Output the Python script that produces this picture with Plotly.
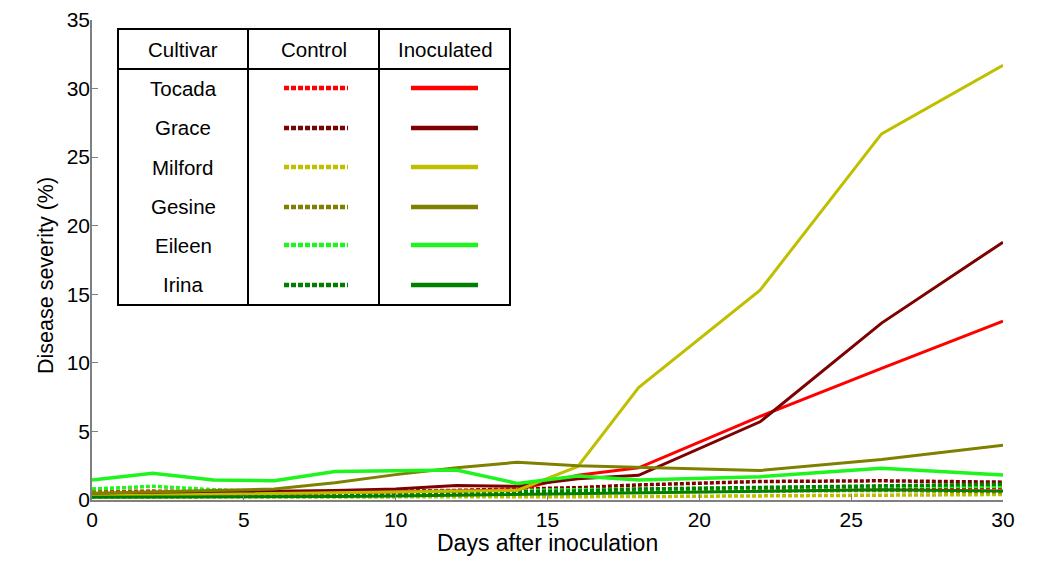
import plotly.graph_objects as go

days = [0, 2, 4, 6, 8, 10, 12, 14, 16, 18, 22, 26, 30]
cultivars = ["Tocada", "Grace", "Milford", "Gesine", "Eileen", "Irina"]
colors = ["#FF0000", "#7F0000", "#BFBF00", "#808000", "#1EF51E", "#007F00"]

# Inoculated (solid)
inoc_tocada = [0.3, 0.35, 0.4, 0.45, 0.5, 0.55, 0.65, 0.75, 1.8, 2.35, 6.1, 9.6, 13.05]
inoc_grace = [0.45, 0.5, 0.55, 0.6, 0.7, 0.8, 1.05, 1.0, 1.55, 1.8, 5.7, 12.9, 18.8]
inoc_milford = [0.3, 0.35, 0.4, 0.45, 0.5, 0.55, 0.65, 0.7, 2.45, 8.2, 15.3, 26.7, 31.7]
inoc_gesine = [0.5, 0.6, 0.65, 0.8, 1.25, 1.85, 2.35, 2.75, 2.5, 2.4, 2.15, 2.95, 4.0]
inoc_eileen = [1.46, 1.95, 1.46, 1.41, 2.07, 2.1, 2.19, 1.21, 1.75, 1.46, 1.7, 2.31, 1.82]
inoc_irina = [0.2, 0.2, 0.2, 0.2, 0.25, 0.3, 0.35, 0.4, 0.5, 0.55, 0.6, 0.75, 0.65]

# Control (dotted)
ctrl_tocada = [0.6, 0.65, 0.6, 0.55, 0.5, 0.55, 0.6, 0.65, 0.7, 0.75, 0.8, 0.85, 0.9]
ctrl_grace = [0.4, 0.45, 0.5, 0.5, 0.55, 0.6, 0.7, 0.8, 0.9, 1.1, 1.35, 1.4, 1.3]
ctrl_milford = [0.2, 0.2, 0.2, 0.2, 0.2, 0.2, 0.2, 0.2, 0.2, 0.25, 0.3, 0.35, 0.4]
ctrl_gesine = [0.55, 0.6, 0.6, 0.55, 0.5, 0.5, 0.5, 0.55, 0.6, 0.6, 0.65, 0.7, 0.6]
ctrl_eileen = [0.8, 1.0, 0.75, 0.6, 0.55, 0.6, 0.65, 0.7, 0.75, 0.85, 0.95, 1.0, 1.0]
ctrl_irina = [0.3, 0.3, 0.3, 0.35, 0.4, 0.45, 0.5, 0.55, 0.65, 0.8, 0.9, 1.05, 1.15]

inoc = [inoc_tocada, inoc_grace, inoc_milford, inoc_gesine, inoc_eileen, inoc_irina]
ctrl = [ctrl_tocada, ctrl_grace, ctrl_milford, ctrl_gesine, ctrl_eileen, ctrl_irina]

x_ticks = [0, 5, 10, 15, 20, 25, 30]
y_ticks = [0, 5, 10, 15, 20, 25, 30, 35]
headers = ["Cultivar", "Control", "Inoculated"]

FONT = "Liberation Sans, Arial, sans-serif"

fig = go.Figure()
for name, col, ys in zip(cultivars, colors, ctrl):
    fig.add_trace(go.Scatter(x=days, y=ys, mode="lines", name=name + " control",
                             line=dict(color=col, width=3.5, dash="4px,2px"),
                             showlegend=False, cliponaxis=False))
for name, col, ys in zip(cultivars, colors, inoc):
    fig.add_trace(go.Scatter(x=days, y=ys, mode="lines", name=name + " inoculated",
                             line=dict(color=col, width=3.5 if name == "Eileen" else 3),
                             showlegend=False, cliponaxis=False))

# page body has an 8px default margin; compensate so plot area matches target pixels
OFF = 8
W, H = 1063 - OFF, 567 - OFF
L, T = 92 - OFF, 20 - OFF
PW, PH = 911, 480


def px(xp):
    return (xp - OFF - L) / PW


def py(yp):
    return (T + PH - (yp - OFF)) / PH


shapes = []
x0, x1, y0, y1 = px(118), px(510), py(29), py(305)
shapes.append(dict(type="rect", xref="paper", yref="paper", x0=x0, x1=x1, y0=y1, y1=y0,
                   line=dict(color="black", width=2), fillcolor="white", layer="above"))
for cx in [248, 379]:
    shapes.append(dict(type="line", xref="paper", yref="paper", x0=px(cx), x1=px(cx),
                       y0=y1, y1=y0, line=dict(color="black", width=2), layer="above"))
shapes.append(dict(type="line", xref="paper", yref="paper", x0=x0, x1=x1,
                   y0=py(69), y1=py(69), line=dict(color="black", width=2), layer="above"))

annotations = []
for h, cx in zip(headers, [183, 314, 445]):
    annotations.append(dict(text=h, x=px(cx), y=py(49), xref="paper", yref="paper",
                            xanchor="center", yanchor="middle",
                            showarrow=False, font=dict(size=20.5, color="black", family=FONT)))
row_y = [88, 128, 167, 207, 245, 285]
for name, col, ry in zip(cultivars, colors, row_y):
    annotations.append(dict(text=name, x=px(183), y=py(ry), xref="paper", yref="paper",
                            xanchor="center", yanchor="middle",
                            showarrow=False, font=dict(size=20.5, color="black", family=FONT)))
    shapes.append(dict(type="line", xref="paper", yref="paper", x0=px(284), x1=px(348),
                       y0=py(ry), y1=py(ry), layer="above",
                       line=dict(color=col, width=4.5, dash="5px,2px")))
    shapes.append(dict(type="line", xref="paper", yref="paper", x0=px(411), x1=px(478),
                       y0=py(ry), y1=py(ry), layer="above",
                       line=dict(color=col, width=4.5)))

# axis titles as annotations for exact placement
annotations.append(dict(text="Disease severity (%)", x=px(46), y=py(276), xref="paper",
                        yref="paper", xanchor="center", yanchor="middle", textangle=-90,
                        showarrow=False, font=dict(size=21.5, color="black", family=FONT)))
annotations.append(dict(text="Days after inoculation", x=px(547), y=py(543), xref="paper",
                        yref="paper", xanchor="center", yanchor="middle",
                        showarrow=False, font=dict(size=23, color="black", family=FONT)))

fig.update_layout(
    width=W, height=H,
    margin=dict(l=L, r=W - L - PW, t=T, b=H - T - PH, autoexpand=False),
    paper_bgcolor="white", plot_bgcolor="white",
    font=dict(family=FONT, color="black"),
    shapes=shapes, annotations=annotations,
    showlegend=False,
)
fig.update_xaxes(range=[0, 30], tickvals=x_ticks, ticks="inside", ticklen=6,
                 tickcolor="#808080", showline=True, linecolor="#808080", linewidth=1.5,
                 showgrid=False, zeroline=False, tickfont=dict(size=21, color="black"),
                 automargin=False)
fig.update_yaxes(range=[0, 35], tickvals=y_ticks, ticks="inside", ticklen=6,
                 tickcolor="#808080", showline=True, linecolor="#808080", linewidth=1.5,
                 showgrid=False, zeroline=False, tickfont=dict(size=21, color="black"),
                 automargin=False, ticklabelstandoff=-4)

fig.write_html("out.html")
